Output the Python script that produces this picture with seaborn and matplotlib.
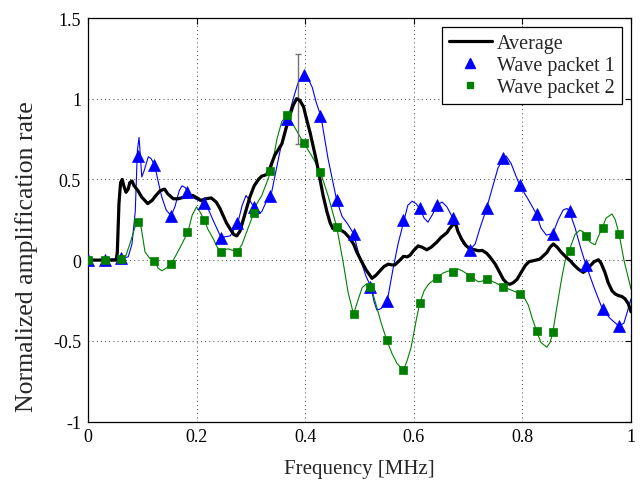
import numpy as np
import pandas as pd
import matplotlib
matplotlib.use("Agg")
import matplotlib.pyplot as plt
import seaborn as sns
from matplotlib.lines import Line2D

# ---------------- data ----------------
# marker sample frequencies (MHz)
marker_freq = [0.000, 0.031, 0.061, 0.092, 0.122, 0.153, 0.183, 0.214, 0.245, 0.275,
               0.306, 0.336, 0.367, 0.397, 0.428, 0.459, 0.489, 0.520, 0.550, 0.581,
               0.611, 0.642, 0.673, 0.703, 0.734, 0.764, 0.795, 0.826, 0.856, 0.887,
               0.917, 0.948, 0.978]
wp1_markers = [0, 0, 0.01, 0.646, 0.587, 0.275, 0.42, 0.353, 0.14, 0.232,
               0.33, 0.40, 0.876, 1.146, 0.89, 0.37, 0.164, -0.165, -0.255, 0.246,
               0.32, 0.34, 0.26, 0.065, 0.32, 0.633, 0.463, 0.284, 0.164, 0.307,
               -0.03, -0.30, -0.41]
wp2_markers = [0, 0, 0.005, 0.237, -0.005, -0.025, 0.175, 0.25, 0.05, 0.05,
               0.29, 0.553, 0.90, 0.727, 0.547, 0.206, -0.335, -0.165, -0.494, -0.682,
               -0.266, -0.113, -0.072, -0.103, -0.118, -0.165, -0.208, -0.438, -0.448, 0.058,
               0.15, 0.2, 0.163]

# wave packet 1 curve
wp1_x = [0, 0.061, 0.074, 0.081, 0.087, 0.091, 0.094, 0.097, 0.099, 0.103,
         0.111, 0.116, 0.123, 0.129, 0.136, 0.144, 0.153, 0.160, 0.168, 0.173,
         0.179, 0.184, 0.197, 0.214, 0.221, 0.230, 0.245, 0.262, 0.276, 0.284,
         0.291, 0.298, 0.305, 0.313, 0.320, 0.328, 0.337, 0.346, 0.357, 0.368,
         0.378, 0.387, 0.398, 0.403, 0.413, 0.420, 0.429, 0.442, 0.458, 0.468,
         0.479, 0.489, 0.497, 0.505, 0.512, 0.521, 0.527, 0.532, 0.540, 0.551,
         0.562, 0.571, 0.582, 0.589, 0.597, 0.604, 0.611, 0.619, 0.626, 0.634,
         0.643, 0.652, 0.661, 0.672, 0.681, 0.691, 0.704, 0.713, 0.722, 0.734,
         0.744, 0.755, 0.765, 0.770, 0.779, 0.795, 0.810, 0.826, 0.834, 0.844,
         0.856, 0.866, 0.875, 0.882, 0.886, 0.897, 0.906, 0.917, 0.932, 0.947,
         0.961, 0.978, 0.987, 0.995, 1.0]
wp1_y = [0, 0.01, 0.02, 0.1, 0.3, 0.68, 0.76, 0.62, 0.515, 0.55,
         0.64, 0.63, 0.587, 0.49, 0.39, 0.31, 0.275, 0.33, 0.43, 0.46,
         0.45, 0.42, 0.38, 0.353, 0.32, 0.25, 0.14, 0.15, 0.232, 0.34,
         0.40, 0.37, 0.33, 0.285, 0.30, 0.36, 0.40, 0.55, 0.73, 0.876,
         1.0, 1.1, 1.146, 1.14, 1.07, 0.98, 0.89, 0.63, 0.37, 0.27,
         0.22, 0.164, 0.06, -0.03, -0.1, -0.165, -0.26, -0.31, -0.3, -0.255,
         -0.05, 0.1, 0.246, 0.34, 0.365, 0.35, 0.32, 0.26, 0.235, 0.28,
         0.34, 0.36, 0.33, 0.26, 0.18, 0.1, 0.065, 0.1, 0.2, 0.32,
         0.44, 0.57, 0.633, 0.645, 0.6, 0.463, 0.38, 0.284, 0.2, 0.155,
         0.164, 0.25, 0.31, 0.32, 0.307, 0.2, 0.09, -0.03, -0.17, -0.3,
         -0.36, -0.41, -0.39, -0.3, -0.24]

# wave packet 2 curve
wp2_x = [0, 0.061, 0.070, 0.079, 0.087, 0.093, 0.098, 0.105, 0.114, 0.123,
         0.129, 0.136, 0.144, 0.153, 0.162, 0.173, 0.184, 0.192, 0.200, 0.206,
         0.214, 0.221, 0.231, 0.238, 0.245, 0.252, 0.258, 0.267, 0.276, 0.284,
         0.295, 0.305, 0.311, 0.320, 0.328, 0.337, 0.348, 0.357, 0.368, 0.381,
         0.397, 0.413, 0.428, 0.442, 0.458, 0.470, 0.479, 0.489, 0.497, 0.505,
         0.512, 0.521, 0.530, 0.540, 0.550, 0.560, 0.569, 0.581, 0.588, 0.595,
         0.599, 0.604, 0.611, 0.619, 0.627, 0.634, 0.642, 0.654, 0.663, 0.673,
         0.682, 0.691, 0.704, 0.719, 0.726, 0.734, 0.750, 0.765, 0.779, 0.795,
         0.803, 0.811, 0.818, 0.826, 0.834, 0.845, 0.851, 0.856, 0.864, 0.873,
         0.879, 0.886, 0.897, 0.906, 0.912, 0.917, 0.925, 0.934, 0.939, 0.947,
         0.954, 0.965, 0.971, 0.978, 0.987, 0.995, 1.0]
wp2_y = [0, 0.005, 0.03, 0.12, 0.21, 0.237, 0.2, 0.05, 0.01, -0.005,
         -0.05, -0.066, -0.05, -0.025, 0.03, 0.1, 0.175, 0.28, 0.33, 0.3,
         0.25, 0.19, 0.13, 0.08, 0.055, 0.065, 0.07, 0.06, 0.055, 0.1,
         0.2, 0.29, 0.35, 0.40, 0.47, 0.553, 0.75, 0.86, 0.90, 0.82,
         0.727, 0.64, 0.547, 0.40, 0.206, -0.015, -0.2, -0.335, -0.25, -0.17,
         -0.15, -0.165, -0.27, -0.39, -0.494, -0.58, -0.64, -0.682, -0.62, -0.54,
         -0.47, -0.38, -0.266, -0.19, -0.15, -0.13, -0.113, -0.08, -0.068, -0.07,
         -0.055, -0.07, -0.10, -0.135, -0.13, -0.115, -0.14, -0.165, -0.185, -0.208,
         -0.23, -0.28, -0.36, -0.438, -0.51, -0.54, -0.51, -0.448, -0.28, -0.1,
         0.0, 0.058, 0.16, 0.185, 0.175, 0.15, 0.11, 0.095, 0.14, 0.2,
         0.26, 0.286, 0.25, 0.163, 0.0, -0.11, -0.18]

# average curve
avg_x = [0, 0.052, 0.054, 0.057, 0.060, 0.063, 0.066, 0.070, 0.074, 0.077,
         0.081, 0.085, 0.092, 0.099, 0.110, 0.118, 0.125, 0.133, 0.141, 0.147,
         0.157, 0.166, 0.174, 0.182, 0.193, 0.201, 0.208, 0.217, 0.227, 0.236,
         0.243, 0.255, 0.268, 0.274, 0.280, 0.286, 0.298, 0.306, 0.314, 0.320,
         0.329, 0.335, 0.344, 0.357, 0.369, 0.378, 0.384, 0.390, 0.397, 0.402,
         0.409, 0.421, 0.433, 0.440, 0.446, 0.451, 0.458, 0.466, 0.473, 0.481,
         0.489, 0.495, 0.504, 0.512, 0.523, 0.530, 0.538, 0.545, 0.553, 0.560,
         0.565, 0.573, 0.581, 0.588, 0.593, 0.600, 0.608, 0.615, 0.624, 0.632,
         0.642, 0.650, 0.661, 0.667, 0.673, 0.678, 0.681, 0.688, 0.696, 0.704,
         0.711, 0.719, 0.726, 0.734, 0.740, 0.750, 0.757, 0.765, 0.772, 0.777,
         0.783, 0.790, 0.797, 0.805, 0.812, 0.820, 0.825, 0.832, 0.838, 0.845,
         0.851, 0.857, 0.864, 0.872, 0.880, 0.888, 0.895, 0.903, 0.912, 0.919,
         0.925, 0.932, 0.940, 0.945, 0.952, 0.958, 0.965, 0.971, 0.977, 0.983,
         0.989, 0.995, 1.0]
avg_y = [0, 0, 0.05, 0.35, 0.48, 0.50, 0.46, 0.42, 0.44, 0.48,
         0.49, 0.46, 0.43, 0.39, 0.35, 0.37, 0.40, 0.43, 0.44, 0.41,
         0.38, 0.38, 0.387, 0.39, 0.40, 0.385, 0.37, 0.38, 0.385, 0.36,
         0.32, 0.23, 0.16, 0.15, 0.18, 0.25, 0.39, 0.46, 0.50, 0.52,
         0.53, 0.57, 0.65, 0.72, 0.87, 0.96, 1.0, 0.99, 0.95, 0.88,
         0.79, 0.61, 0.40, 0.30, 0.23, 0.195, 0.19, 0.185, 0.17, 0.14,
         0.10, 0.05, -0.01, -0.06, -0.113, -0.095, -0.066, -0.04, -0.025, -0.03,
         -0.03, -0.005, 0.023, 0.02, 0.03, 0.06, 0.088, 0.08, 0.064, 0.08,
         0.11, 0.14, 0.17, 0.2, 0.223, 0.215, 0.18, 0.13, 0.09, 0.068,
         0.065, 0.058, 0.06, 0.043, 0.02, -0.025, -0.07, -0.12, -0.145, -0.15,
         -0.14, -0.12, -0.08, -0.035, -0.01, -0.004, 0.0, 0.006, 0.025, 0.047,
         0.08, 0.1, 0.08, 0.047, 0.02, -0.004, -0.03, -0.056, -0.076, -0.06,
         -0.035, -0.01, 0.002, -0.02, -0.076, -0.14, -0.19, -0.21, -0.22, -0.225,
         -0.24, -0.27, -0.32]

# error bar at the peak of the average
err_x = [0.386]
err_y = [1.0]
err_size = [0.28]

series_labels = ["Average", "Wave packet 1", "Wave packet 2"]
xticks = [0, 0.2, 0.4, 0.6, 0.8, 1.0]
xtick_labels = ["0", "0.2", "0.4", "0.6", "0.8", "1"]
yticks = [-1, -0.5, 0, 0.5, 1, 1.5]
ytick_labels = ["-1", "-0.5", "0", "0.5", "1", "1.5"]

# ---------------- style ----------------
sns.set_style("white")
plt.rcParams["font.family"] = ["Liberation Serif", "DejaVu Serif"]
plt.rcParams["axes.unicode_minus"] = False

BLUE = (0, 0, 1)
GREEN = (0, 0.5, 0)

fig = plt.figure(figsize=(6.4, 4.81), dpi=100)
ax = fig.add_axes([88 / 640, 1 - 422.5 / 481, (631 - 88) / 640, (422.5 - 19) / 481])

df1 = pd.DataFrame({"x": wp1_x, "y": wp1_y})
df2 = pd.DataFrame({"x": wp2_x, "y": wp2_y})
dfa = pd.DataFrame({"x": avg_x, "y": avg_y})

sns.lineplot(data=df1, x="x", y="y", ax=ax, color=BLUE, lw=0.8, estimator=None, sort=False, zorder=2)
sns.lineplot(data=df2, x="x", y="y", ax=ax, color=GREEN, lw=0.8, estimator=None, sort=False, zorder=2)

ax.errorbar(err_x, err_y, yerr=err_size, fmt="none", ecolor=(0.45, 0.45, 0.45),
            elinewidth=1.0, capsize=2.5, capthick=1.0, zorder=3)

sns.lineplot(data=dfa, x="x", y="y", ax=ax, color="black", lw=2.3, estimator=None, sort=False, zorder=4)

ax.plot(marker_freq, wp1_markers, ls="none", marker="^", ms=8.5, color=BLUE,
        mec=BLUE, mew=0.5, zorder=5)
ax.plot(marker_freq, wp2_markers, ls="none", marker="s", ms=6, color=GREEN,
        mec=GREEN, mew=0.5, zorder=6)

handles = [
    Line2D([], [], color="black", lw=2.3),
    Line2D([], [], ls="none", marker="^", ms=7, color=BLUE),
    Line2D([], [], ls="none", marker="s", ms=5, color=GREEN),
]
leg = ax.legend(handles, series_labels, loc="upper right",
                fontsize=14.5, frameon=True, fancybox=False, framealpha=1, edgecolor="black",
                borderaxespad=0.45, handlelength=2.15, handletextpad=0.25, borderpad=0.35,
                labelspacing=0.15)
leg.get_frame().set_linewidth(0.9)

ax.set_xlim(0, 1)
ax.set_ylim(-1, 1.5)
ax.set_xticks(xticks)
ax.set_xticklabels(xtick_labels)
ax.set_yticks(yticks)
ax.set_yticklabels(ytick_labels)
ax.tick_params(direction="in", length=4, width=0.8, top=True, right=True,
               labelsize=13, colors="black", pad=5)
ax.grid(True, ls=(0, (1, 4)), color="black", lw=0.6)
for s in ax.spines.values():
    s.set_visible(True)
    s.set_color("black")
    s.set_linewidth(0.9)

ax.set_xlabel("Frequency [MHz]", fontsize=15, labelpad=10)
ax.set_ylabel("Normalized amplification rate", fontsize=18.5)
ax.yaxis.set_label_coords(-0.093, 0.41)

fig.savefig("out.png", dpi=100)
